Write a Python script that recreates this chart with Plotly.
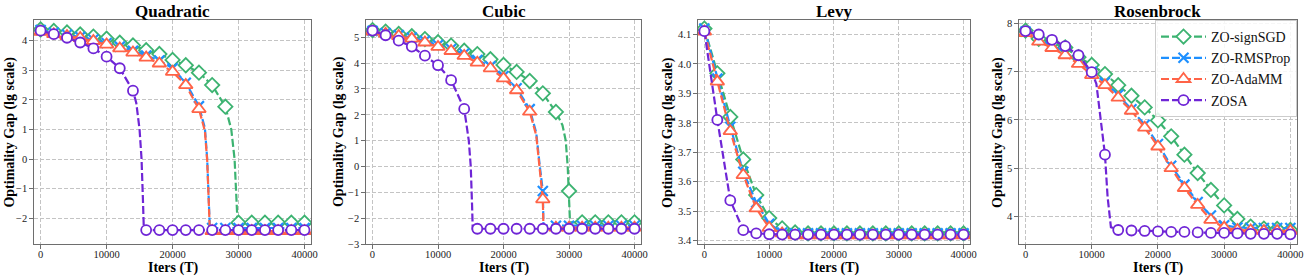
import plotly.graph_objects as go

# ---------------- data ----------------
iters = [0, 2000, 4000, 6000, 8000, 10000, 12000, 14000, 16000, 18000, 20000,
         22000, 24000, 26000, 28000, 30000, 32000, 34000, 36000, 38000, 40000]

series_names = ["ZO-signSGD", "ZO-RMSProp", "ZO-AdaMM", "ZOSA"]
panel_titles = ["Quadratic", "Cubic", "Levy", "Rosenbrock"]

# Quadratic
q_sign = [4.38, 4.33, 4.28, 4.21, 4.14, 4.07, 3.93, 3.84, 3.68, 3.55, 3.35, 3.17, 2.92, 2.50, 1.77,
          -2.15, -2.15, -2.15, -2.15, -2.15, -2.15]
q_rms = [4.36, 4.28, 4.21, 4.13, 4.04, 3.92, 3.80, 3.66, 3.50, 3.33, 3.07, 2.58, 1.79,
         -2.33, -2.33, -2.33, -2.33, -2.33, -2.33, -2.33, -2.33]
q_adamm = [4.30, 4.22, 4.16, 4.09, 3.99, 3.87, 3.74, 3.60, 3.43, 3.23, 2.95, 2.50, 1.69,
           -2.43, -2.43, -2.43, -2.43, -2.43, -2.43, -2.43, -2.43]
q_zosa = [4.34, 4.22, 4.10, 3.94, 3.74, 3.46, 3.07, 2.31,
          -2.40, -2.40, -2.40, -2.40, -2.40, -2.40, -2.40, -2.40, -2.40, -2.40, -2.40, -2.40, -2.40]
# extra points of the dashed curves where they plunge between markers
q_sign_drop_x = [28900, 29400, 29700, 29850]
q_sign_drop_y = [1.0, 0.0, -1.2, -2.15]
q_rms_drop_x = [24900, 25250, 25500, 25650]
q_rms_drop_y = [1.05, 0.0, -1.2, -2.33]
q_adamm_drop_x = [24900, 25250, 25500, 25650]
q_adamm_drop_y = [0.95, -0.05, -1.3, -2.43]
q_zosa_drop_x = [14500, 15000, 15300, 15500, 15650]
q_zosa_drop_y = [1.9, 1.0, 0.0, -1.3, -2.40]

# Cubic
c_sign = [5.28, 5.22, 5.13, 5.04, 4.93, 4.81, 4.68, 4.48, 4.35, 4.15, 3.93, 3.66, 3.31, 2.83, 2.11, -0.95,
          -2.16, -2.16, -2.16, -2.16, -2.16]
c_rms = [5.25, 5.17, 5.09, 4.99, 4.87, 4.70, 4.55, 4.37, 4.12, 3.88, 3.50, 3.03, 2.22, -0.95,
         -2.29, -2.29, -2.29, -2.29, -2.29, -2.29, -2.29]
c_adamm = [5.22, 5.14, 5.05, 4.95, 4.80, 4.63, 4.47, 4.28, 4.02, 3.80, 3.41, 2.95, 2.12, -1.27,
           -2.37, -2.37, -2.37, -2.37, -2.37, -2.37, -2.37]
c_zosa = [5.26, 5.08, 4.87, 4.64, 4.29, 3.92, 3.34, 2.23,
          -2.41, -2.41, -2.41, -2.41, -2.41, -2.41, -2.41, -2.41, -2.41, -2.41, -2.41, -2.41, -2.41]
c_sign_drop_x = [29000, 29500, 29800, 30150]
c_sign_drop_y = [1.6, 1.0, 0.0, -2.16]
c_rms_drop_x = [25000, 25500, 26100]
c_rms_drop_y = [1.3, 0.1, -2.29]
c_adamm_drop_x = [25000, 25500, 26100]
c_adamm_drop_y = [1.2, 0.0, -2.40]
c_zosa_drop_x = [14700, 15000, 15200, 15300]
c_zosa_drop_y = [1.0, 0.0, -1.5, -2.41]

# Levy
l_sign = [4.12, 3.968, 3.82, 3.676, 3.555, 3.477, 3.442, 3.428,
          3.425, 3.425, 3.425, 3.425, 3.425, 3.425, 3.425, 3.425, 3.425, 3.425, 3.425, 3.425, 3.425]
l_rms = [4.12, 3.95, 3.787, 3.634, 3.53, 3.458, 3.428,
         3.425, 3.425, 3.425, 3.425, 3.425, 3.425, 3.425, 3.425, 3.425, 3.425, 3.425, 3.425, 3.425, 3.425]
l_adamm = [4.11, 3.94, 3.772, 3.623, 3.51, 3.444, 3.425,
           3.418, 3.418, 3.418, 3.418, 3.418, 3.418, 3.418, 3.418, 3.418, 3.418, 3.418, 3.418, 3.418, 3.418]
l_zosa = [4.111, 3.81, 3.537, 3.436, 3.425, 3.422,
          3.421, 3.421, 3.421, 3.421, 3.421, 3.421, 3.421, 3.421, 3.421, 3.421, 3.421, 3.421, 3.421, 3.421, 3.421]

# Rosenbrock
r_sign = [7.85, 7.68, 7.60, 7.50, 7.30, 7.14, 6.95, 6.72, 6.50, 6.26, 5.99, 5.66, 5.28, 4.90, 4.55,
          4.23, 3.95, 3.79, 3.75, 3.74, 3.72]
r_rms = [7.83, 7.66, 7.55, 7.40, 7.22, 7.00, 6.78, 6.52, 6.22, 5.90, 5.50, 5.05, 4.66, 4.30, 4.02,
         3.82, 3.77, 3.76, 3.76, 3.76, 3.76]
r_adamm = [7.80, 7.62, 7.49, 7.34, 7.16, 6.93, 6.72, 6.46, 6.19, 5.84, 5.45, 5.00, 4.59, 4.24, 3.93,
           3.77, 3.72, 3.71, 3.70, 3.70, 3.70]
r_zosa = [7.84, 7.77, 7.66, 7.53, 7.34, 6.99, 5.28, 3.72, 3.71, 3.70, 3.69, 3.68, 3.68, 3.67, 3.66,
          3.66, 3.65, 3.64, 3.64, 3.64, 3.63]
r_zosa_drop_x = [10700, 11300, 12400, 12900]
r_zosa_drop_y = [6.75, 6.10, 4.40, 3.78]

# axis ranges / ticks
y_ranges = [[-2.87, 4.70], [-3.0, 5.67], [3.389, 4.149], [3.43, 8.07]]
y_ticks = [[-2, -1, 0, 1, 2, 3, 4], [-3, -2, -1, 0, 1, 2, 3, 4, 5],
           [3.4, 3.5, 3.6, 3.7, 3.8, 3.9, 4.0, 4.1], [4, 5, 6, 7, 8]]
y_tickfmt = ["d", "d", ".1f", "d"]
x_ticks = [0, 10000, 20000, 30000, 40000]

panels = [
    [(q_sign, q_sign_drop_x, q_sign_drop_y), (q_rms, q_rms_drop_x, q_rms_drop_y),
     (q_adamm, q_adamm_drop_x, q_adamm_drop_y), (q_zosa, q_zosa_drop_x, q_zosa_drop_y)],
    [(c_sign, c_sign_drop_x, c_sign_drop_y), (c_rms, c_rms_drop_x, c_rms_drop_y),
     (c_adamm, c_adamm_drop_x, c_adamm_drop_y), (c_zosa, c_zosa_drop_x, c_zosa_drop_y)],
    [(l_sign, [], []), (l_rms, [], []), (l_adamm, [], []), (l_zosa, [], [])],
    [(r_sign, [], []), (r_rms, [], []), (r_adamm, [], []), (r_zosa, r_zosa_drop_x, r_zosa_drop_y)],
]

# ---------------- style ----------------
colors = ["#3cb371", "#1e90ff", "#ff6347", "#6f25d6"]
symbols = ["diamond", "x-thin", "triangle-up", "circle"]
msizes = [11, 10, 12, 10]
FONT = "Liberation Serif"

W, H = 1316, 278
ML, MR, MT, MB = 34, 15, 20, 34
PW = W - ML - MR
PH = H - MT - MB
px_domains = [(34, 312), (367, 643), (700, 973), (1022, 1301)]
x_domains = [[(a - ML) / PW, (b - ML) / PW] for a, b in px_domains]


def marker_style(s):
    if symbols[s] == "x-thin":
        return dict(symbol="x-thin", size=msizes[s], color=colors[s],
                    line=dict(color=colors[s], width=2.2))
    return dict(symbol=symbols[s], size=msizes[s], color="white",
                line=dict(color=colors[s], width=1.8))


fig = go.Figure()

for p, series in enumerate(panels):
    xa = "x" if p == 0 else f"x{p+1}"
    ya = "y" if p == 0 else f"y{p+1}"
    for s, (vals, dx, dy) in enumerate(series):
        pts = sorted(list(zip(iters, vals)) + list(zip(dx, dy)))
        lx = [a for a, _ in pts]
        ly = [b for _, b in pts]
        fig.add_trace(go.Scatter(
            x=lx, y=ly, mode="lines", xaxis=xa, yaxis=ya, showlegend=False,
            line=dict(color=colors[s], width=2.2, dash="8px,3px"), hoverinfo="skip"))
        fig.add_trace(go.Scatter(
            x=iters, y=vals, mode="markers", xaxis=xa, yaxis=ya, showlegend=False,
            marker=marker_style(s), name=series_names[s]))

# legend entries (drawn on the last panel, no data)
for s in range(4):
    fig.add_trace(go.Scatter(
        x=[None], y=[None], mode="lines+markers", xaxis="x4", yaxis="y4",
        name=series_names[s], line=dict(color=colors[s], width=2.2, dash="8px,3px"),
        marker=marker_style(s), showlegend=True))

axis_common = dict(
    showline=True, mirror=True, linecolor="#6e6e6e", linewidth=1.3,
    ticks="outside", ticklen=3.5, tickwidth=1, tickcolor="#6e6e6e",
    showgrid=True, gridcolor="#c4c4c4", gridwidth=0.8, griddash="4px,2px",
    zeroline=False, tickfont=dict(family=FONT, size=10.5, color="#222"),
)

layout = dict(
    width=W, height=H, margin=dict(l=ML, r=MR, t=MT, b=MB),
    paper_bgcolor="white", plot_bgcolor="white",
    font=dict(family=FONT, color="black"),
    legend=dict(x=1.0, y=1.0, xanchor="right", yanchor="top",
                bgcolor="rgba(255,255,255,0.85)", bordercolor="#cccccc", borderwidth=1,
                font=dict(family=FONT, size=14, color="#111"),
                itemwidth=45, tracegroupgap=0),
    annotations=[],
)

y_title_px = [9.5, 340, 670, 1001]
for p in range(4):
    xk = "xaxis" if p == 0 else f"xaxis{p+1}"
    yk = "yaxis" if p == 0 else f"yaxis{p+1}"
    xa = "x" if p == 0 else f"x{p+1}"
    layout[xk] = dict(axis_common, domain=x_domains[p], range=[-1000, 41000],
                      tickvals=x_ticks, tickformat="d", ticklabelstandoff=-3,
                      anchor="y" if p == 0 else f"y{p+1}")
    layout[yk] = dict(axis_common, domain=[0, 1], range=y_ranges[p], tickvals=y_ticks[p],
                      tickformat=y_tickfmt[p], anchor=xa)
    cx = (px_domains[p][0] + px_domains[p][1]) / 2
    layout["annotations"].append(dict(
        text="<b>%s</b>" % panel_titles[p], xref="paper", yref="paper",
        x=(cx - ML) / PW, y=1 + (MT - 12) / PH, xanchor="center", yanchor="middle",
        showarrow=False, font=dict(family=FONT, size=17, color="black")))
    layout["annotations"].append(dict(
        text="<b>Iters (T)</b>", xref="paper", yref="paper",
        x=(cx - ML) / PW, y=-(268 - (H - MB)) / PH, xanchor="center", yanchor="middle",
        showarrow=False, font=dict(family=FONT, size=14, color="black")))
    layout["annotations"].append(dict(
        text="<b>Optimality Gap (lg scale)</b>", xref="paper", yref="paper",
        x=(y_title_px[p] - ML) / PW, y=0.5, xanchor="center", yanchor="middle",
        textangle=-90, showarrow=False, font=dict(family=FONT, size=14, color="black")))

fig.update_layout(**layout)
fig.write_html("out.html", config={"displayModeBar": False},
               post_script="document.body.style.margin='0';document.body.style.padding='0';"
                           "document.documentElement.style.overflow='hidden';")
